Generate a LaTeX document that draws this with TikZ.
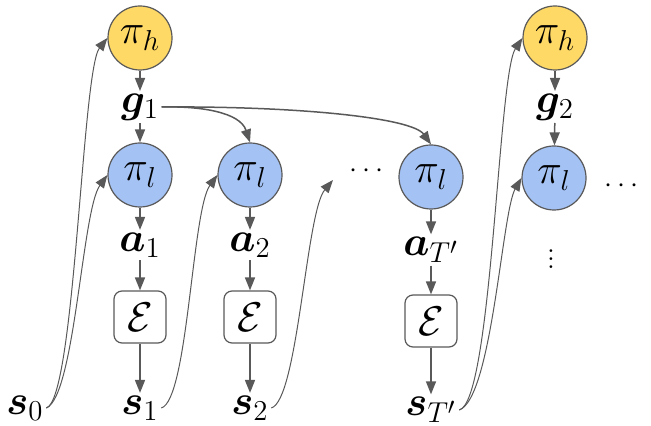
\documentclass[tikz,border=0pt]{standalone}
\usepackage{amsmath,bm}
\usetikzlibrary{arrows.meta}
\definecolor{hcol}{HTML}{FFD966}
\definecolor{lcol}{HTML}{A4C2F4}
\definecolor{edgecol}{HTML}{595959}

\tikzset{every picture/.style={line width=0.75pt}}
\tikzset{
  pih/.style={circle,draw=edgecol,line width=0.6pt,fill=hcol,minimum size=32pt,inner sep=0pt,font=\huge},
  pil/.style={circle,draw=edgecol,line width=0.6pt,fill=lcol,minimum size=32pt,inner sep=0pt,font=\huge},
  envbox/.style={draw=edgecol,line width=0.6pt,rounded corners=4pt,minimum size=26pt,inner sep=0pt,font=\huge},
  lbl/.style={inner sep=1pt,font=\huge},
  dotlbl/.style={inner sep=0pt,font=\Large},
  flow/.style={draw=edgecol,line width=0.75pt,-{Triangle[length=6.5pt,width=5pt]}},
  feed/.style={draw=edgecol,line width=0.5pt,-{Triangle[length=6.5pt,width=5pt]}},
}

\begin{document}
\begin{tikzpicture}[x=0.5pt,y=0.5pt,yscale=-1,xscale=1]
\useasboundingbox (0,0) rectangle (651,426);

%Shape: Circle
\node[pih] (ph1) at (140,38) {$\pi_h$};
\node[pih] (ph2) at (555,38) {$\pi_h$};
%Shape: Circle
\node[pil] (pl1) at (140,175) {$\pi_l$};
\node[pil] (pl2) at (250,175) {$\pi_l$};
\node[pil] (plT) at (431,177) {$\pi_l$};
\node[pil] (pl4) at (554,178) {$\pi_l$};
%Shape: Rectangle
\node[envbox] (E1) at (140,317) {$\mathcal{E}$};
\node[envbox] (E2) at (250,317) {$\mathcal{E}$};
\node[envbox] (ET) at (431,321) {$\mathcal{E}$};

% Text Node
\node[lbl] (g1) at (140,107) {$\bm{g}_1$};
\node[lbl] (g2) at (555,107) {$\bm{g}_2$};
% Text Node
\node[lbl] (a1) at (140,245) {$\bm{a}_1$};
\node[lbl] (a2) at (250,245) {$\bm{a}_2$};
\node[lbl] (aT) at (431,250) {$\bm{a}_{T'}$};
% Text Node
\node[lbl] (s0) at (25,408) {$\bm{s}_0$};
\node[lbl] (s1) at (140,408) {$\bm{s}_1$};
\node[lbl] (s2) at (250,408) {$\bm{s}_2$};
\node[lbl] (sT) at (431,410) {$\bm{s}_{T'}$};
% Text Node
\node[dotlbl] (dots1) at (369,171) {$\cdots$};
\node[dotlbl] (dots2) at (624,186) {$\cdots$};
\node[dotlbl] (vdots) at (551,253) {$\vdots$};
\coordinate (open) at (333,180);

%Straight Lines
\draw[flow] (ph1) -- (g1);
\draw[flow] (g1) -- (pl1);
\draw[flow] (pl1) -- (a1);
\draw[flow] (a1) -- (E1);
\draw[flow] (E1) -- (s1);
\draw[flow] (pl2) -- (a2);
\draw[flow] (a2) -- (E2);
\draw[flow] (E2) -- (s2);
\draw[flow] (plT) -- (aT);
\draw[flow] (aT) -- (ET);
\draw[flow] (ET) -- (sT);
\draw[flow] (ph2) -- (g2);
\draw[flow] (g2) -- (pl4);

%Curve Lines
\draw[flow] (g1.east) .. controls (200,106) and (240,112) .. (pl2.north);
\draw[flow] (g1.east) .. controls (300,106) and (412,118) .. (plT.north);
%Curve Lines
\draw[feed] (s0.east) .. controls (75,400) and (82,70) .. (ph1.west);
\draw[feed] (s0.east) .. controls (75,396) and (82,210) .. (pl1.west);
\draw[feed] (s1.east) .. controls (188,400) and (192,210) .. (pl2.west);
\draw[feed] (s2.east) .. controls (298,400) and (306,212) .. (open);
\draw[feed] (sT.east) .. controls (492,402) and (498,75) .. (ph2.west);
\draw[feed] (sT.east) .. controls (492,398) and (502,212) .. (pl4.west);

\end{tikzpicture}
\end{document}
